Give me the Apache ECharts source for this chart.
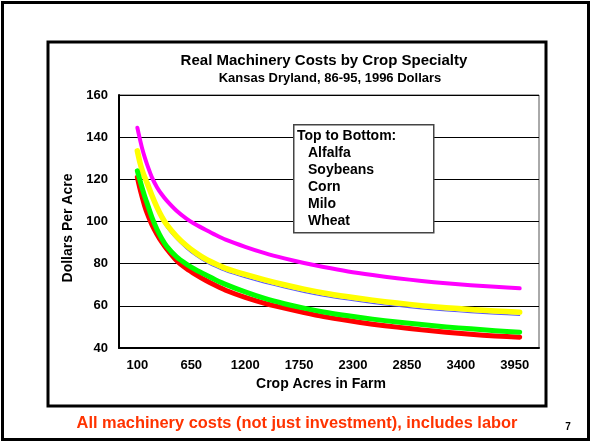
<!DOCTYPE html>
<html>
<head>
<meta charset="utf-8">
<script src="https://cdn.jsdelivr.net/npm/echarts@6/dist/echarts.min.js"></script>
<style>
  html, body { margin: 0; padding: 0; background: #fff; }
  #myChart { width: 592px; height: 444px; }
</style>
</head>
<body>
<div id="myChart"></div>
<script>
// acres in farm (x positions of the points)
var acres = [100, 125, 150, 175, 200, 250, 300, 350, 400, 500, 600, 700, 800, 900, 1000,
             1200, 1400, 1600, 1800, 2000, 2250, 2500, 2750, 3000, 3250, 3500, 3750, 4000];
// dollars per acre
var alfalfa  = [144.5, 139.3, 134.5, 130.5, 127, 120.8, 116.3, 112.8, 109.9, 105.1, 101.4, 98.5, 96, 93.6, 91.4,
                88, 85, 82.5, 80.3, 78.4, 76.3, 74.6, 73.1, 71.8, 70.7, 69.8, 69, 68.3];
var soybeans = [133.5, 128.3, 124.2, 121, 118.2, 112.2, 106.8, 102.2, 98.5, 93, 88.6, 85, 82.1, 79.8, 77.8,
                74.9, 72.3, 70, 67.9, 66.1, 64.3, 62.7, 61.3, 60.1, 59.1, 58.3, 57.6, 57];
var corn     = [132.2, 127, 122.8, 119.6, 116.8, 110.7, 105.3, 100.7, 97, 91.5, 87.1, 83.5, 80.6, 78.3, 76.3,
                73.4, 70.8, 68.5, 66.4, 64.6, 62.8, 61.2, 59.8, 58.6, 57.6, 56.8, 56.1, 55.5];
var milo     = [124, 119.8, 115.8, 112, 108.6, 101.8, 96.3, 91.8, 88.2, 83.2, 79.8, 77, 74.6, 72.3, 70.2,
                66.6, 63.5, 61, 58.9, 57.1, 55.3, 53.7, 52.3, 51.1, 50, 49.1, 48.2, 47.5];
var wheat    = [121, 115.9, 111.4, 107.4, 104, 98.4, 94, 90.2, 87, 81.5, 77.7, 74.7, 72, 69.6, 67.4,
                64, 61.2, 58.9, 56.8, 54.9, 53, 51.3, 49.9, 48.6, 47.5, 46.5, 45.7, 45.1];
// x tick labels
var xTicks = [100, 650, 1200, 1750, 2300, 2850, 3400, 3950];
var legendLines = ['Alfalfa', 'Soybeans', 'Corn', 'Milo', 'Wheat'];

var FONT = "'Liberation Sans', Arial, sans-serif";

function pairs(vals) {
  return acres.map(function (a, i) { return [a, vals[i]]; });
}

function curve(name, vals, color, width, z) {
  return {
    name: name,
    type: 'line',
    smooth: 0.2,
    showSymbol: false,
    z: z,
    data: pairs(vals),
    lineStyle: { color: color, width: width, cap: 'round', join: 'round' }
  };
}

var myChart = echarts.init(document.getElementById('myChart'));

// legend box (text block sitting over the grid lines)
var legendBox = [{
  type: 'rect', z: 100, left: 293, top: 124, silent: true,
  shape: { x: 0, y: 0, width: 140, height: 108 },
  style: { fill: '#fff', stroke: '#444', lineWidth: 1.5 }
}, {
  type: 'text', z: 101, left: 297, top: 129, silent: true,
  style: { text: 'Top to Bottom:', font: 'bold 14px ' + FONT, fill: '#000' }
}];
legendLines.forEach(function (t, i) {
  legendBox.push({
    type: 'text', z: 101, left: 308, top: 146 + i * 17, silent: true,
    style: { text: t, font: 'bold 14px ' + FONT, fill: '#000' }
  });
});

var option = {
  animation: false,
  backgroundColor: '#fff',
  grid: { left: 119, top: 95, right: 53, bottom: 96, show: true, borderColor: '#555', borderWidth: 1 },
  xAxis: {
    type: 'value',
    min: -87,
    max: 4197,
    name: 'Crop Acres in Farm',
    nameLocation: 'middle',
    nameGap: 26,
    nameTextStyle: { fontFamily: FONT, fontWeight: 'bold', fontSize: 14, color: '#000', padding: [0, 16, 0, 0] },
    axisLine: { onZero: false, lineStyle: { color: '#000', width: 2 } },
    axisTick: { show: false },
    splitLine: { show: false },
    axisLabel: {
      customValues: xTicks,
      formatter: function (v) { return String(v); },
      margin: 11,
      fontFamily: FONT, fontWeight: 'bold', fontSize: 13, color: '#000'
    }
  },
  yAxis: {
    type: 'value',
    min: 40,
    max: 160,
    interval: 20,
    name: 'Dollars Per Acre',
    nameLocation: 'middle',
    nameGap: 44,
    nameTextStyle: { fontFamily: FONT, fontWeight: 'bold', fontSize: 14, color: '#000', padding: [0, 13, 0, 0] },
    axisLine: { show: true, onZero: false, lineStyle: { color: '#000', width: 2 } },
    axisTick: { show: false },
    splitLine: { lineStyle: { color: '#000', width: 1 } },
    axisLabel: { margin: 11, fontFamily: FONT, fontWeight: 'bold', fontSize: 13, color: '#000' }
  },
  series: [
    curve('Alfalfa', alfalfa, '#ff00ff', 4, 2),
    curve('Corn', corn, '#5a5aff', 1.2, 3),
    curve('Soybeans', soybeans, '#ffff00', 5.5, 4),
    curve('Wheat', wheat, '#ff0000', 5, 5),
    curve('Milo', milo, '#00ff00', 5, 6)
  ],
  graphic: [
    { type: 'rect', z: 0, silent: true, shape: { x: 2.5, y: 2.5, width: 586, height: 437 },
      style: { fill: 'none', stroke: '#000', lineWidth: 3 } },
    { type: 'rect', z: 0, silent: true, shape: { x: 48, y: 42, width: 498, height: 364 },
      style: { fill: 'none', stroke: '#000', lineWidth: 3 } },
    { type: 'text', x: 324, y: 61, silent: true,
      style: { text: 'Real Machinery Costs by Crop Specialty', font: 'bold 15px ' + FONT, fill: '#000',
               textAlign: 'center', textVerticalAlign: 'middle' } },
    { type: 'text', x: 330, y: 78, silent: true,
      style: { text: 'Kansas Dryland, 86-95, 1996 Dollars', font: 'bold 13px ' + FONT, fill: '#000',
               textAlign: 'center', textVerticalAlign: 'middle' } },
    { type: 'text', x: 297, y: 423, silent: true,
      style: { text: 'All machinery costs (not just investment), includes labor', font: 'bold 16.4px ' + FONT,
               fill: '#ff3300', textAlign: 'center', textVerticalAlign: 'middle' } },
    { type: 'text', x: 568, y: 427, silent: true,
      style: { text: '7', font: 'bold 10px ' + FONT, fill: '#000', textAlign: 'center', textVerticalAlign: 'middle' } }
  ].concat(legendBox)
};

myChart.setOption(option);
</script>
</body>
</html>
